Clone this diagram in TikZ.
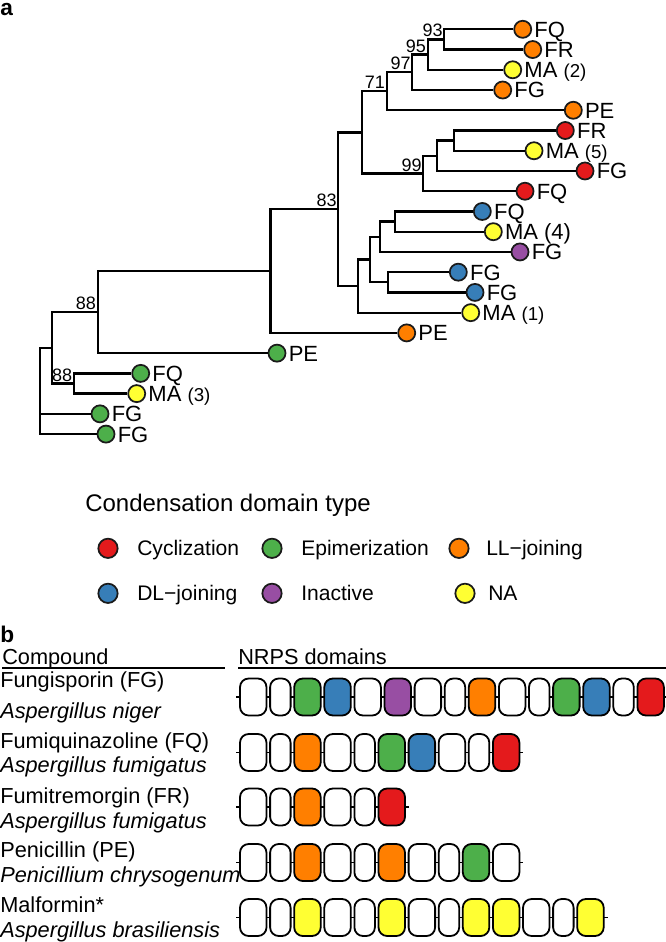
\documentclass[tikz,border=0pt]{standalone}
\usepackage{fontspec}
\setmainfont{Liberation Sans}
\usetikzlibrary{calc}
\definecolor{cRed}{HTML}{E41A1C}
\definecolor{cGreen}{HTML}{4DAF4A}
\definecolor{cOrange}{HTML}{FF7F00}
\definecolor{cBlue}{HTML}{377EB8}
\definecolor{cPurple}{HTML}{984EA3}
\definecolor{cYellow}{HTML}{FFFF33}
\definecolor{cEdge}{HTML}{1A1A1A}
\newcommand{\fsz}[1]{\fontsize{#1}{#1}\selectfont}
\def\W{26.5}
\def\N{20.5}
\newcommand{\domrow}[3]{%
  \draw[backbone] (236,#1) -- (#2,#1);
  \gdef\curx{240}%
  \foreach \w/\c in {#3} {
    \draw[dombox, fill=\c] (\curx,#1-18.5) rectangle ++(\w,37);
    \pgfmathsetmacro\nxt{\curx+\w+3.6}
    \global\let\curx\nxt
  }
}
\newcommand{\tipnode}[5]{%
  \node[tipdot, fill=#4] (#1) at (#2,#3) {};
  \node[tiplab] (#1l) at (#2+11.5,#3+7.9) {#5};
}
\begin{document}
\begin{tikzpicture}[x=0.75pt,y=-0.75pt,
  branch/.style={line width=1.7pt, line join=miter, draw=black},
  tipdot/.style={circle, draw=cEdge, line width=1.3pt, minimum size=12.8pt, inner sep=0pt},
  legdot/.style={circle, draw=cEdge, line width=1.3pt, minimum size=14.5pt, inner sep=0pt},
  tiplab/.style={anchor=base west, inner sep=0pt, font=\fsz{16.5pt}},
  boot/.style={anchor=base east, inner sep=0pt, font=\fsz{13.5pt}},
  legtxt/.style={anchor=base west, inner sep=0pt, font=\fsz{15.8pt}},
  btxt/.style={anchor=base west, inner sep=0pt, font=\fsz{16.3pt}},
  panel/.style={anchor=base west, inner sep=0pt, font=\fsz{17pt}\bfseries},
  dombox/.style={draw=black, line width=1.35pt, rounded corners=6.5pt},
  backbone/.style={draw=black, line width=1.1pt},
  uline/.style={draw=black, line width=1.4pt}]
\useasboundingbox (0,0) rectangle (666,942);

% ---------- panel a ----------
\node[panel] (pa) at (0,16) {a};

\tipnode{t1}{522.7}{29.3}{cOrange}{FQ}
\tipnode{t2}{532.7}{49.54}{cOrange}{FR}
\tipnode{t3}{512.7}{69.78}{cYellow}{MA {\fsz{14pt}(2)}}
\tipnode{t4}{502.7}{90.02}{cOrange}{FG}
\tipnode{t5}{573.3}{110.26}{cOrange}{PE}
\tipnode{t6}{565.3}{130.5}{cRed}{FR}
\tipnode{t7}{534}{150.74}{cYellow}{MA {\fsz{14pt}(5)}}
\tipnode{t8}{585}{170.98}{cRed}{FG}
\tipnode{t9}{525}{191.22}{cRed}{FQ}
\tipnode{t10}{482.3}{211.46}{cBlue}{FQ}
\tipnode{t11}{493.3}{231.7}{cYellow}{MA (4)}
\tipnode{t12}{520}{251.94}{cPurple}{FG}
\tipnode{t13}{458.3}{272.18}{cBlue}{FG}
\tipnode{t14}{475}{292.42}{cBlue}{FG}
\tipnode{t15}{470.7}{312.66}{cYellow}{MA {\fsz{14pt}(1)}}
\tipnode{t16}{406.7}{332.9}{cOrange}{PE}
\tipnode{t17}{277}{353.14}{cGreen}{PE}
\tipnode{t18}{140.7}{373.38}{cGreen}{FQ}
\tipnode{t19}{136.7}{393.62}{cYellow}{MA {\fsz{14pt}(3)}}
\tipnode{t20}{100}{413.86}{cGreen}{FG}
\tipnode{t21}{106}{434.1}{cGreen}{FG}

\coordinate (n93) at (444.3,39.42);
\coordinate (n95) at (427.7,54.6);
\coordinate (n97) at (412.3,72.31);
\coordinate (n71) at (386.7,91.29);
\coordinate (nY) at (454,140.62);
\coordinate (nX) at (437.3,155.8);
\coordinate (n99) at (423.3,173.51);
\coordinate (nA) at (361.7,132.4);
\coordinate (nE) at (395,221.58);
\coordinate (nD) at (380,236.76);
\coordinate (nF) at (387.7,282.3);
\coordinate (nC) at (370,259.53);
\coordinate (nB) at (358.3,286.1);
\coordinate (n83) at (338.3,209.25);
\coordinate (nP) at (270.5,271.08);
\coordinate (n88a) at (97.7,312.11);
\coordinate (n88b) at (74,383.5);
\coordinate (nG) at (52.3,347.8);
\coordinate (root) at (40,390);

\draw[branch] (n93) |- (t1);  \draw[branch] (n93) |- (t2);
\draw[branch] (n95) |- (n93); \draw[branch] (n95) |- (t3);
\draw[branch] (n97) |- (n95); \draw[branch] (n97) |- (t4);
\draw[branch] (n71) |- (n97); \draw[branch] (n71) |- (t5);
\draw[branch] (nY) |- (t6);   \draw[branch] (nY) |- (t7);
\draw[branch] (nX) |- (nY);   \draw[branch] (nX) |- (t8);
\draw[branch] (n99) |- (nX);  \draw[branch] (n99) |- (t9);
\draw[branch] (nA) |- (n71);  \draw[branch] (nA) |- (n99);
\draw[branch] (nE) |- (t10);  \draw[branch] (nE) |- (t11);
\draw[branch] (nD) |- (nE);   \draw[branch] (nD) |- (t12);
\draw[branch] (nF) |- (t13);  \draw[branch] (nF) |- (t14);
\draw[branch] (nC) |- (nD);   \draw[branch] (nC) |- (nF);
\draw[branch] (nB) |- (nC);   \draw[branch] (nB) |- (t15);
\draw[branch] (n83) |- (nA);  \draw[branch] (n83) |- (nB);
\draw[branch] (nP) |- (n83);  \draw[branch] (nP) |- (t16);
\draw[branch] (n88a) |- (nP); \draw[branch] (n88a) |- (t17);
\draw[branch] (n88b) |- (t18); \draw[branch] (n88b) |- (t19);
\draw[branch] (nG) |- (n88a); \draw[branch] (nG) |- (n88b);
\draw[branch] (root) |- (nG); \draw[branch] (root) |- (t20); \draw[branch] (root) |- (t21);

\node[boot] (b93) at ($(n93)+(-1.5,-2.5)$) {93};
\node[boot] (b95) at ($(n95)+(-1.5,-2.5)$) {95};
\node[boot] (b97) at ($(n97)+(-1.5,-2.5)$) {97};
\node[boot] (b71) at ($(n71)+(-1.5,-2.5)$) {71};
\node[boot] (b99) at ($(n99)+(-1.5,-2.5)$) {99};
\node[boot] (b83) at ($(n83)+(-1.5,-2.5)$) {83};
\node[boot] (b88a) at ($(n88a)+(-1.5,-2.5)$) {88};
\node[boot] (b88b) at ($(n88b)+(-1.5,-2)$) {88};

% ---------- legend ----------
\node[anchor=base west, inner sep=0pt, font=\fsz{18pt}] (legtitle) at (85,511.7) {Condensation domain type};
\node[legdot, fill=cRed] (lg1) at (108,548.3) {};
\node[legtxt] (lt1) at (137,555.9) {Cyclization};
\node[legdot, fill=cGreen] (lg2) at (272,548.3) {};
\node[legtxt] (lt2) at (301,555.9) {Epimerization};
\node[legdot, fill=cOrange] (lg3) at (459,548.3) {};
\node[legtxt] (lt3) at (486,555.9) {LL−joining};
\node[legdot, fill=cBlue] (lg4) at (108,593.3) {};
\node[legtxt] (lt4) at (137,600.9) {DL−joining};
\node[legdot, fill=cPurple] (lg5) at (272,593.3) {};
\node[legtxt] (lt5) at (301,600.9) {Inactive};
\node[legdot, fill=cYellow] (lg6) at (465,593.3) {};
\node[legtxt] (lt6) at (488,600.9) {NA};

% ---------- panel b ----------
\node[panel] (pb) at (0,642) {b};
\node[btxt] (hcomp) at (2,664) {Compound};
\node[btxt] (hnrps) at (238,664) {NRPS domains};
\draw[uline] (2,668) -- (225,668);
\draw[uline] (238,668) -- (666,668);

\node[btxt] (c1) at (0,687) {Fungisporin (FG)};
\node[btxt] (s1) at (0,718) {\itshape Aspergillus niger};
\node[btxt] (c2) at (0,748.3) {Fumiquinazoline (FQ)};
\node[btxt] (s2) at (0,772.5) {\itshape Aspergillus fumigatus};
\node[btxt] (c3) at (0,803.3) {Fumitremorgin (FR)};
\node[btxt] (s3) at (0,828.5) {\itshape Aspergillus fumigatus};
\node[btxt] (c4) at (0,857) {Penicillin (PE)};
\node[btxt] (s4) at (0,882) {\itshape Penicillium chrysogenum};
\node[btxt] (c5) at (0,912) {Malformin*};
\node[btxt] (s5) at (0,937.8) {\itshape Aspergillus brasiliensis};

\domrow{697}{668}{\W/white,\N/white,\W/cGreen,\W/cBlue,\W/white,\W/cPurple,\W/white,\N/white,\W/cOrange,\W/white,\N/white,\W/cGreen,\W/cBlue,\N/white,\W/cRed}
\domrow{752.5}{523.4}{\W/white,\N/white,\W/cOrange,\W/white,\N/white,\W/cGreen,\W/cBlue,\W/white,\N/white,\W/cRed}
\domrow{807}{409}{\W/white,\N/white,\W/cOrange,\W/white,\N/white,\W/cRed}
\domrow{862.5}{523.4}{\W/white,\N/white,\W/cOrange,\W/white,\N/white,\W/cOrange,\W/white,\N/white,\W/cGreen,\W/white}
\domrow{917.5}{607.7}{\W/white,\N/white,\W/cYellow,\W/white,\N/white,\W/cYellow,\W/white,\N/white,\W/cYellow,\W/cYellow,\W/white,\N/white,\W/cYellow}
\end{tikzpicture}
\end{document}
